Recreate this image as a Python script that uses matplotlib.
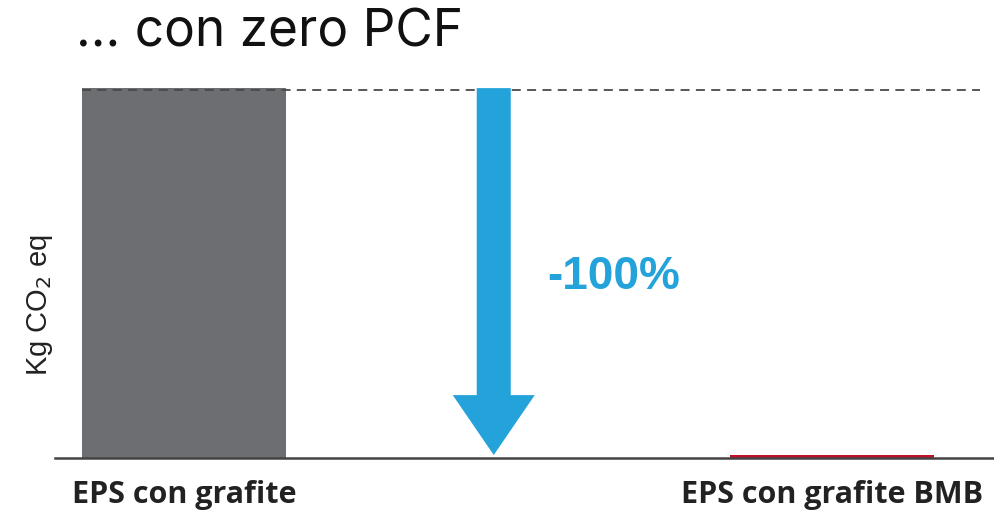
import matplotlib.pyplot as plt
from matplotlib.patches import FancyArrow

categories = ["EPS con grafite", "EPS con grafite BMB"]
values = [100, 0.8]
bar_colors = ["#6d6e71", "#c0102a"]
change_label = "-100%"
title = "... con zero PCF"
ylabel = "Kg CO$_2$ eq"

fig = plt.figure(figsize=(9.95, 5.12), dpi=100)
ax = fig.add_axes([0.0553, 0.1055, 0.9447, 0.7383])

pos = [0, 1]
ax.bar(pos, values, width=0.315, color=bar_colors, zorder=2)

ax.set_xlim(-0.199, 1.2515)
ax.set_ylim(0, 102.2)

# dashed reference line at the top of the first bar
ax.hlines(values[0] - 0.5, -0.157, 1.228, colors="#4a4a4a",
          linestyles=(0, (5, 3.5)), linewidth=1.3, zorder=3)

# arrow showing the reduction
arrow_x = 0.478
ax.add_patch(FancyArrow(arrow_x, values[0], 0, -(values[0] - 0.8),
                        width=0.0525, head_width=0.1265, head_length=16.2,
                        length_includes_head=True, color="#24a3db",
                        linewidth=0, zorder=4))
ax.text(0.56, 49, change_label, color="#24a3db", fontsize=33,
        fontweight="bold", family="Liberation Sans", va="center", ha="left")

for s in ["top", "right", "left"]:
    ax.spines[s].set_visible(False)
ax.spines["bottom"].set_color("#444444")
ax.spines["bottom"].set_linewidth(1.8)
ax.set_yticks([])
ax.set_xticks(pos)
ax.set_xticklabels(categories, fontsize=22, fontweight="bold",
                   family="Open Sans", color="#222222")
ax.tick_params(axis="x", length=0, pad=16)

fig.text(0.040, 0.405, ylabel, rotation=90, fontsize=21, family="Liberation Sans",
         ha="center", va="center", color="#222222")
fig.text(0.076, 0.935, title, fontsize=37, family="Inter", color="#111111",
         ha="left", va="center")

fig.savefig("out.png", dpi=100)
